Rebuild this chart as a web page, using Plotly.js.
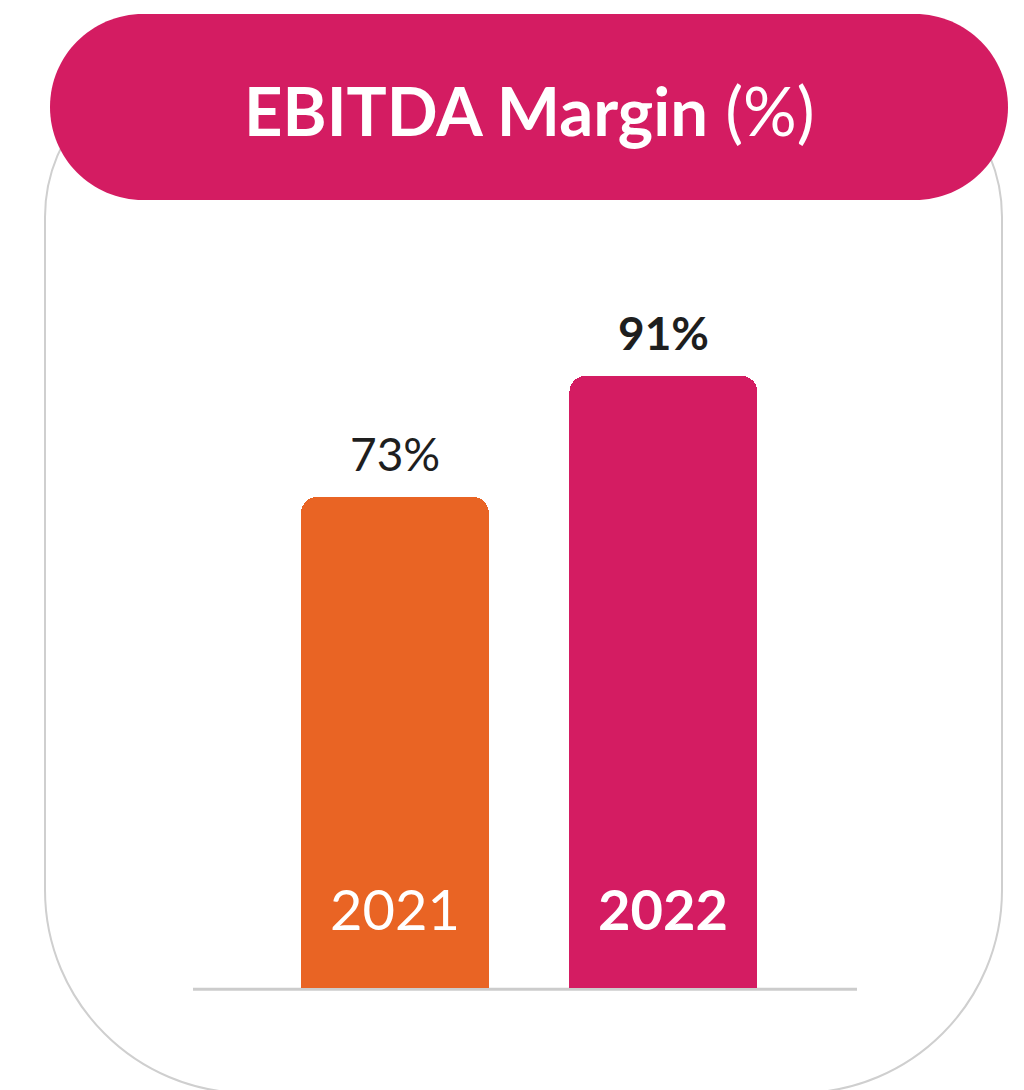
<!DOCTYPE html>
<html>
<head>
<meta charset="utf-8">
<script src="https://cdn.plot.ly/plotly-3.0.1.min.js"></script>
<style>html,body{margin:0;padding:0;background:#fff;}#chart{width:1024px;height:1090px;}</style>
</head>
<body>
<div id="chart"></div>
<script>
// ---- data ----
const years = ["2021", "2022"];
const margins = [73, 91];
const barColors = ["#E96424", "#D41C62"];
const labelBold = [false, true];
const titleMain = "EBITDA Margin";
const titleUnit = "(%)";

// ---- helpers (pixel -> paper) ----
const W = 1024, H = 1090;
const X = px => px / W;
const Y = py => 1 - py / H;
function roundRect(x0, y0, x1, y1, rt, rb) {
  const k = 0.5523;
  const p = (x, y) => X(x).toFixed(5) + "," + Y(y).toFixed(5);
  return "M" + p(x0 + rt, y0) +
    " L" + p(x1 - rt, y0) +
    " C" + p(x1 - rt + k * rt, y0) + " " + p(x1, y0 + rt - k * rt) + " " + p(x1, y0 + rt) +
    " L" + p(x1, y1 - rb) +
    " C" + p(x1, y1 - rb + k * rb) + " " + p(x1 - rb + k * rb, y1) + " " + p(x1 - rb, y1) +
    " L" + p(x0 + rb, y1) +
    " C" + p(x0 + rb - k * rb, y1) + " " + p(x0, y1 - rb + k * rb) + " " + p(x0, y1 - rb) +
    " L" + p(x0, y0 + rt) +
    " C" + p(x0, y0 + rt - k * rt) + " " + p(x0 + rt - k * rt, y0) + " " + p(x0 + rt, y0) + " Z";
}

const FONT = "Lato, 'Open Sans', sans-serif";

const trace = {
  type: "bar",
  x: years,
  y: margins,
  width: 0.7,
  marker: { color: barColors, cornerradius: 16, line: { width: 0 } },
  hoverinfo: "skip",
  showlegend: false
};

const annotations = [];
years.forEach((yr, i) => {
  const b = labelBold[i];
  annotations.push({
    x: i, y: margins[i], xref: "x", yref: "y",
    text: b ? "<b>" + margins[i] + "%</b>" : margins[i] + "%",
    showarrow: false, yanchor: "bottom", yshift: 14,
    font: { family: FONT, size: 46, color: "#1e1e1e" }
  });
  annotations.push({
    x: i, y: 0, xref: "x", yref: "y",
    text: b ? "<b>" + yr + "</b>" : yr,
    showarrow: false, yanchor: "bottom", yshift: 44,
    font: { family: FONT, size: 56, color: "#ffffff" }
  });
});
annotations.push({
  x: X(529), y: Y(110), xref: "paper", yref: "paper",
  xanchor: "center", yanchor: "middle",
  text: "<b>" + titleMain + "</b> " + titleUnit,
  showarrow: false,
  font: { family: FONT, size: 67, color: "#ffffff" }
});

const layout = {
  width: W, height: H,
  margin: { l: 0, r: 0, t: 0, b: 0, pad: 0 },
  paper_bgcolor: "#ffffff",
  plot_bgcolor: "rgba(0,0,0,0)",
  xaxis: {
    type: "category",
    domain: [X(193), X(857)],
    range: [-0.752, 1.7207],
    showticklabels: false, showgrid: false, zeroline: false, showline: false, ticks: "",
    fixedrange: true
  },
  yaxis: {
    domain: [Y(988), Y(220)],
    range: [0, 768 / 6.726],
    showticklabels: false, showgrid: false, zeroline: false, showline: false, ticks: "",
    fixedrange: true
  },
  shapes: [
    { type: "path", xref: "paper", yref: "paper", layer: "below",
      path: roundRect(45, 60, 1002, 1093, 157, 203),
      line: { color: "#cfcfcf", width: 2 }, fillcolor: "rgba(0,0,0,0)" },
    { type: "path", xref: "paper", yref: "paper", layer: "below",
      path: roundRect(50, 14, 1008, 200, 93, 93),
      line: { width: 0 }, fillcolor: "#D41C62" },
    { type: "line", xref: "paper", yref: "paper", layer: "below",
      x0: X(193), x1: X(857), y0: Y(989.3), y1: Y(989.3),
      line: { color: "#cccccc", width: 3 } }
  ],
  annotations: annotations,
  bargap: 0
};

Plotly.newPlot("chart", [trace], layout, { displayModeBar: false, staticPlot: true });
</script>
</body>
</html>
